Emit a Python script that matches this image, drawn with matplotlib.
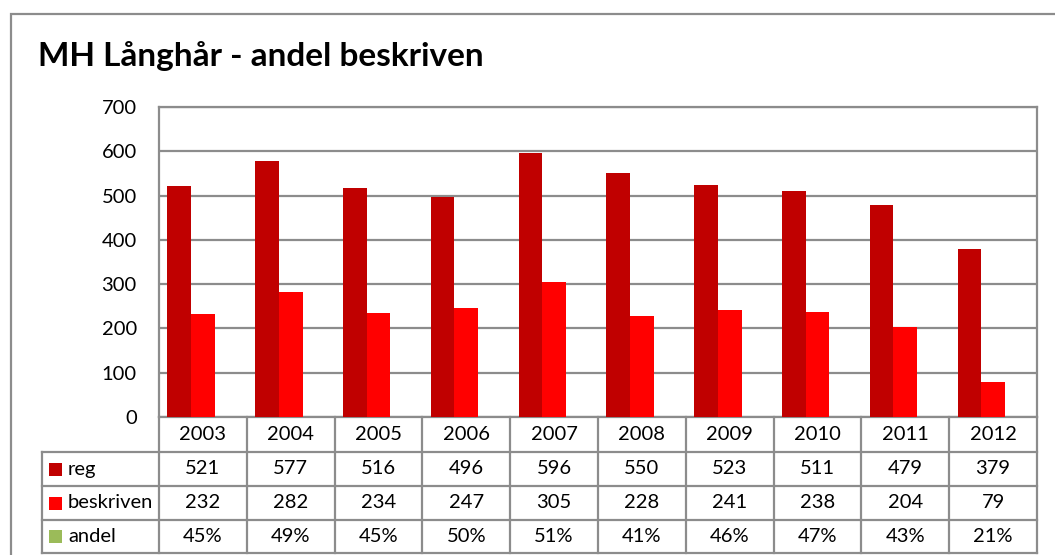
import matplotlib
matplotlib.use("Agg")
import matplotlib.pyplot as plt
from matplotlib.patches import Rectangle
from matplotlib.lines import Line2D
import matplotlib.transforms as mtransforms
import numpy as np

plt.rcParams['font.family'] = ['Lato', 'DejaVu Sans']

years = ["2003", "2004", "2005", "2006", "2007", "2008", "2009", "2010", "2011", "2012"]
reg = [521, 577, 516, 496, 596, 550, 523, 511, 479, 379]
beskriven = [232, 282, 234, 247, 305, 228, 241, 238, 204, 79]
andel = [0.45, 0.49, 0.45, 0.50, 0.51, 0.41, 0.46, 0.47, 0.43, 0.21]
andel_labels = ["45%", "49%", "45%", "50%", "51%", "41%", "46%", "47%", "43%", "21%"]
series_names = ["reg", "beskriven", "andel"]
colors = ["#C00000", "#FF0000", "#9BBB59"]
title = "MH Långhår - andel beskriven"

W, H = 1055, 555
fig = plt.figure(figsize=(W / 100, H / 100), dpi=100)

# plot area in pixels
pl, pr, pt, pb = 159, 1037, 107, 417
ax = fig.add_axes([pl / W, (H - pb) / H, (pr - pl) / W, (pb - pt) / H])

grid_c = "#8C8C8C"
x = np.arange(len(years))
bw = 0.27
for i, (vals, c) in enumerate(zip([reg, beskriven, andel], colors)):
    ax.bar(x + (i - 1) * bw, vals, width=bw, color=c, zorder=3, linewidth=0)

ax.set_xlim(-0.5, len(years) - 0.5)
ax.set_ylim(0, 700)
ax.set_yticks(range(0, 701, 100))
ax.set_xticks([])
ax.yaxis.grid(True, color=grid_c, linewidth=1.6, zorder=0)
ax.tick_params(axis='y', length=0, pad=16, labelsize=14.5)
for s in ax.spines.values():
    s.set_color(grid_c)
    s.set_linewidth(1.6)

# data table below the plot
trans = mtransforms.blended_transform_factory(ax.transData, ax.transAxes)
ph = pb - pt
cw = (pr - pl) / len(years)
row_edges_px = [417, 452, 486, 520, 553]
row_edges = [-(r - pb) / ph for r in row_edges_px]
label_left = -0.5 - (pl - 42) / cw

lk = dict(color=grid_c, linewidth=1.6, transform=trans, clip_on=False)
for yv in row_edges[1:]:
    ax.add_line(Line2D([label_left, len(years) - 0.5], [yv, yv], **lk))
for k in range(len(years) + 1):
    ax.add_line(Line2D([k - 0.5, k - 0.5], [row_edges[0], row_edges[-1]], **lk))
ax.add_line(Line2D([label_left, label_left], [row_edges[1], row_edges[-1]], **lk))

fs = 14.5
def mid(j):
    return (row_edges[j] + row_edges[j + 1]) / 2

for i, yr in enumerate(years):
    ax.text(i, mid(0), yr, transform=trans, ha='center', va='center', fontsize=fs)
rows = [[str(v) for v in reg], [str(v) for v in beskriven], andel_labels]
sq_w = 13 / cw
sq_h = 13 / ph
for j, (name, c, vals) in enumerate(zip(series_names, colors, rows), start=1):
    ym = mid(j)
    ax.add_patch(Rectangle((label_left + 7 / cw, ym - sq_h / 2), sq_w, sq_h, transform=trans,
                           facecolor=c, edgecolor='none', clip_on=False))
    ax.text(label_left + 26 / cw, ym, name, transform=trans, ha='left', va='center', fontsize=fs)
    for i, v in enumerate(vals):
        ax.text(i, ym, v, transform=trans, ha='center', va='center', fontsize=fs)

# outer chart border
fig.patches.append(Rectangle((11 / W, -0.1), 1.2, (H - 14) / H + 0.1, transform=fig.transFigure,
                             fill=False, edgecolor=grid_c, linewidth=1.6))

fig.text(38 / W, (H - 56) / H, title, fontsize=24, fontweight='bold', ha='left', va='center')

fig.savefig("out.png", dpi=100)
